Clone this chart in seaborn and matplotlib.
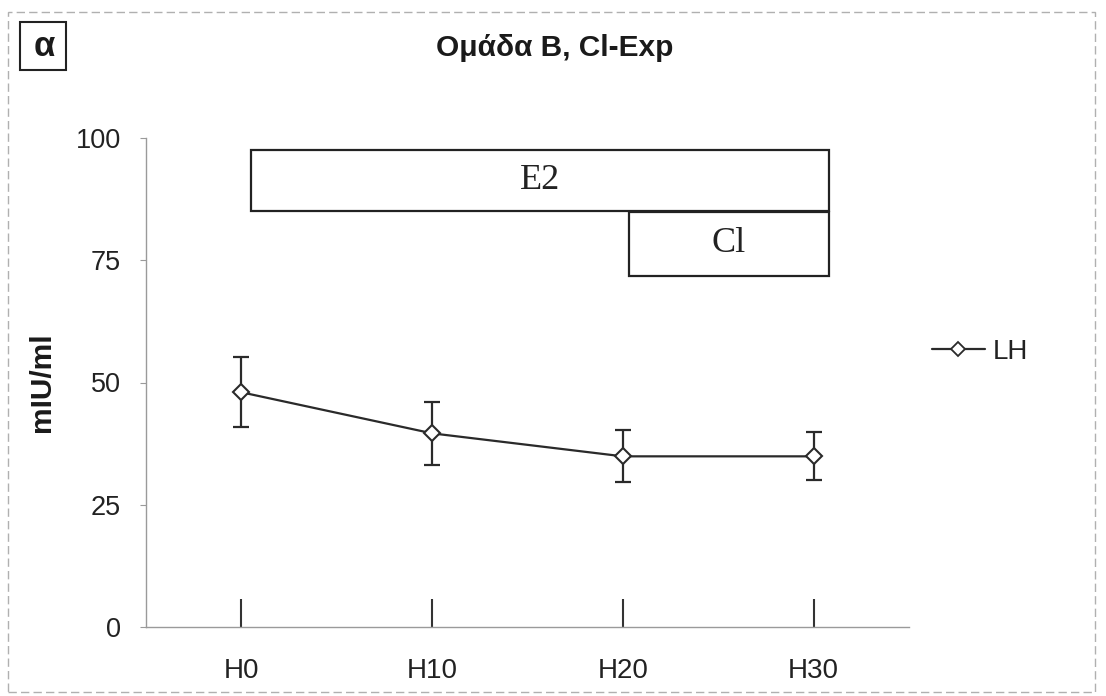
import numpy as np
import pandas as pd
import matplotlib
matplotlib.use("Agg")
import matplotlib.pyplot as plt
from matplotlib.patches import Rectangle
from matplotlib.lines import Line2D
import seaborn as sns

# ---- data ----
categories = ["H0", "H10", "H20", "H30"]
lh_mean = [48.0, 39.6, 34.9, 34.9]
lh_err = [7.2, 6.5, 5.3, 4.9]
series_name = "LH"

# treatment windows (category-index units, y units)
treat_labels = ["E2", "Cl"]
treat_x0 = [0.05, 2.03]
treat_x1 = [3.08, 3.08]
treat_y0 = [85.1, 71.8]
treat_y1 = [97.6, 84.9]

yticks = [0, 25, 50, 75, 100]

title = "Ομάδα Β, Cl-Exp"
ylabel = "mIU/ml"
panel = "α"

# ---- plot ----
sns.set_theme(style="white")
plt.rcParams["font.family"] = ["Liberation Sans", "DejaVu Sans"]

W, H = 1106, 696
fig = plt.figure(figsize=(W / 100, H / 100), dpi=100)
ax = fig.add_axes([146 / W, 1 - 627 / H, (909 - 146) / W, (627 - 138) / H])

df = pd.DataFrame({"x": np.arange(len(categories)), "y": lh_mean, "s": series_name})
line_col = "#2a2a2a"
ax.errorbar(df["x"], df["y"], yerr=lh_err, fmt="none", ecolor=line_col,
            elinewidth=1.6, capsize=5.5, capthick=1.6, zorder=2)
sns.lineplot(data=df, x="x", y="y", hue="s", palette=[line_col], ax=ax,
             marker="D", markersize=8, markerfacecolor="white",
             markeredgecolor=line_col, markeredgewidth=1.5, linewidth=1.6,
             legend=False, zorder=3)

for lab, x0, x1, y0, y1 in zip(treat_labels, treat_x0, treat_x1, treat_y0, treat_y1):
    ax.add_patch(Rectangle((x0, y0), x1 - x0, y1 - y0, fill=False,
                           edgecolor="#222222", linewidth=1.6, zorder=1))
    ax.text((x0 + x1) / 2, (y0 + y1) / 2, lab, ha="center", va="center",
            fontsize=26, family="Liberation Serif", color="#222222")

ax.set_xlim(-0.5, 3.5)
ax.set_ylim(0, 100)
ax.set_xticks(np.arange(len(categories)))
ax.set_xticklabels(categories)
ax.set_yticks(yticks)
ax.set_xlabel("")
ax.set_ylabel("")

for side in ["top", "right"]:
    ax.spines[side].set_visible(False)
for side in ["left", "bottom"]:
    ax.spines[side].set_color("#9a9a9a")
    ax.spines[side].set_linewidth(1.0)

ax.tick_params(axis="x", direction="in", length=20, width=1.5, color="#333333",
               pad=22, labelsize=20, labelcolor="#222222", bottom=True)
ax.tick_params(axis="y", direction="out", length=4, width=0.8, color="#9a9a9a",
               pad=14, labelsize=19.5, labelcolor="#222222", left=True)

# legend
h = Line2D([], [], color=line_col, linewidth=1.6, marker="D", markersize=7,
           markerfacecolor="white", markeredgecolor=line_col, markeredgewidth=1.3)
fig.legend([h], [series_name], loc="center left",
           bbox_to_anchor=(932 / W, 1 - 352 / H), frameon=False, fontsize=20,
           handlelength=1.9, handletextpad=0.3, borderpad=0, borderaxespad=0,
           labelcolor="#222222")

# title, y label, panel letter
fig.text(555 / W, 1 - 48 / H, title, ha="center", va="center", fontsize=21.5,
         fontweight="bold", color="#1a1a1a")
fig.text(42 / W, 1 - 382 / H, ylabel, ha="center", va="center", rotation=90,
         fontsize=21.5, fontweight="bold", color="#1a1a1a")
fig.patches.append(Rectangle((20 / W, 1 - 70 / H), 46 / W, 48 / H, fill=False,
                             edgecolor="#222222", linewidth=1.5,
                             transform=fig.transFigure, figure=fig))
fig.text(44 / W, 1 - 46 / H, panel, ha="center", va="center", fontsize=25,
         fontweight="bold", color="#1a1a1a")

# outer dashed frame
fig.patches.append(Rectangle((8 / W, 1 - 692 / H), (1095 - 8) / W, (692 - 12) / H,
                             fill=False, edgecolor="#b0b0b0", linewidth=1.0,
                             linestyle=(0, (6, 3)), transform=fig.transFigure,
                             figure=fig))

fig.savefig("out.png", dpi=100)
